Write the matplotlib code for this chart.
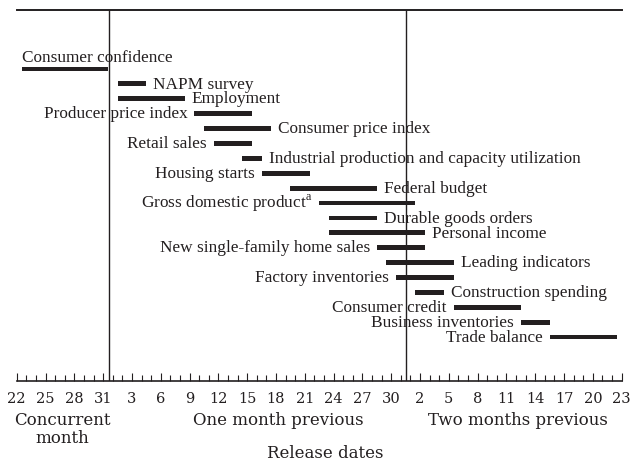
import matplotlib
matplotlib.use('Agg')
import matplotlib.pyplot as plt
import numpy as np

# release windows, positions on the day axis (0 = 22nd of concurrent month)
names = ['Consumer confidence', 'NAPM survey', 'Employment', 'Producer price index',
         'Consumer price index', 'Retail sales',
         'Industrial production and capacity utilization', 'Housing starts',
         'Federal budget', 'Gross domestic product$^{\\rm a}$', 'Durable goods orders',
         'Personal income', 'New single-family home sales', 'Leading indicators',
         'Factory inventories', 'Construction spending', 'Consumer credit',
         'Business inventories', 'Trade balance']
start = [0.5, 10.5, 10.5, 18.5, 19.5, 20.5, 23.5, 25.5, 28.5, 31.5, 32.5, 32.5,
         37.5, 38.5, 39.5, 41.5, 45.5, 52.5, 55.5]
end = [9.5, 13.5, 17.5, 24.5, 26.5, 24.5, 25.5, 30.5, 37.5, 41.5, 37.5, 42.5,
       42.5, 45.5, 45.5, 44.5, 52.5, 55.5, 62.5]
side = ['above', 'r', 'r', 'l', 'r', 'l', 'r', 'l', 'r', 'l', 'r', 'r', 'l', 'r',
        'l', 'r', 'l', 'l', 'l']

# day numbers along the axis: concurrent 22-31, previous month 1-31, two months 1-23
days = list(range(22, 32)) + list(range(1, 32)) + list(range(1, 24))
month_breaks = [9.6, 40.55]
groups = ['Concurrent\nmonth', 'One month previous', 'Two months previous']
group_x = [4.72, 27.2, 52.15]

ink = '#231f20'
plt.rcParams['font.family'] = 'Liberation Serif'
plt.rcParams['mathtext.fontset'] = 'custom'
plt.rcParams['mathtext.rm'] = 'Liberation Serif'

fig = plt.figure(figsize=(6.32, 4.61), dpi=100)
ax = fig.add_axes([16.7/632, 1-381/461, 605/632, 371/461])

rows = np.arange(len(names))
ax.barh(rows, np.array(end)-np.array(start), left=start, height=0.32, color=ink)

fs = 12.4
for i in rows:
    if side[i] == 'above':
        ax.annotate(names[i], xy=(start[i], i), xytext=(0, 5.3), textcoords='offset points',
                    ha='left', va='baseline', fontsize=fs, color=ink)
    elif side[i] == 'r':
        ax.annotate(names[i], xy=(end[i], i), xytext=(5, -3.4), textcoords='offset points',
                    ha='left', va='baseline', fontsize=fs, color=ink)
    else:
        ax.annotate(names[i], xy=(start[i], i), xytext=(-5, -3.4), textcoords='offset points',
                    ha='right', va='baseline', fontsize=fs, color=ink)

for b in month_breaks:
    ax.axvline(b, color=ink, lw=1.0)

ax.set_xlim(0, len(days)-1)
ax.set_ylim(20.95, -3.96)
ax.set_yticks([])
ax.set_xticks(np.arange(0, len(days), 3))
ax.set_xticklabels([str(days[i]) for i in range(0, len(days), 3)], family='DejaVu Serif')
ax.set_xticks(np.arange(len(days)), minor=True)
ax.tick_params(axis='x', which='major', direction='in', length=5.8, width=0.8,
               pad=8, labelsize=10.5, colors=ink)
ax.tick_params(axis='x', which='minor', direction='in', length=4, width=0.8, colors=ink)

for s in ['left', 'right']:
    ax.spines[s].set_visible(False)
ax.spines['top'].set_linewidth(1.4)
ax.spines['bottom'].set_linewidth(1.2)
ax.spines['top'].set_color(ink)
ax.spines['bottom'].set_color(ink)

for g, gx in zip(groups, group_x):
    xf = (16.7 + gx*605/63)/632
    fig.text(xf, 1-412/461, g, ha='center', va='top', fontsize=12,
             family='DejaVu Serif', color=ink, linespacing=1.05)

fig.text(325/632, 1-453/461, 'Release dates', ha='center', va='center', fontsize=12,
         family='DejaVu Serif', color=ink)

fig.savefig('out.png', dpi=100)
